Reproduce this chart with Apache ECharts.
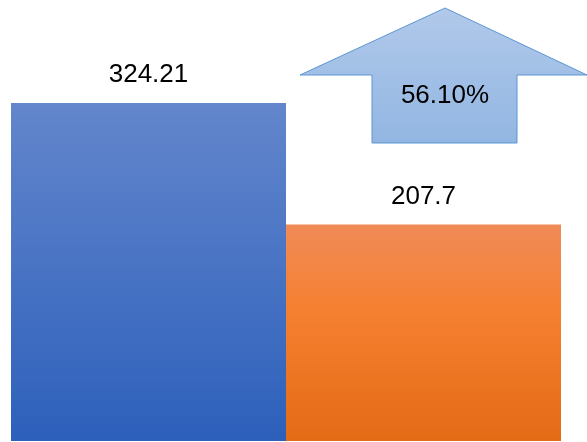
<!DOCTYPE html>
<html>
<head>
<meta charset="utf-8">
<script src="https://cdn.jsdelivr.net/npm/echarts@6/dist/echarts.min.js"></script>
<style>
  html, body { margin: 0; padding: 0; background: #fff; }
  #main { width: 587px; height: 442px; }
</style>
</head>
<body>
<div id="main"></div>
<script>
var categories = ['当前', '对比'];
var values = [324.21, 207.7];
var growth = (values[0] / values[1] - 1) * 100;

var myChart = echarts.init(document.getElementById('main'));

var blueFill = new echarts.graphic.LinearGradient(0, 0, 0, 1, [
    { offset: 0, color: '#6386cc' },
    { offset: 1, color: '#2d60bb' }
]);
var orangeFill = new echarts.graphic.LinearGradient(0, 0, 0, 1, [
    { offset: 0, color: '#f08b57' },
    { offset: 0.4, color: '#f58030' },
    { offset: 1, color: '#e46b16' }
]);

var option = {
    animation: false,
    grid: {
        left: 11,
        right: 26,
        top: 24,
        bottom: 1
    },
    xAxis: {
        type: 'category',
        data: categories,
        show: false
    },
    yAxis: {
        type: 'value',
        min: 0,
        max: 400,
        show: false
    },
    series: [
        {
            type: 'bar',
            barCategoryGap: '0%',
            data: [
                { value: values[0], itemStyle: { color: blueFill } },
                { value: values[1], itemStyle: { color: orangeFill } }
            ],
            label: {
                show: true,
                position: 'top',
                distance: 15,
                color: '#000',
                fontSize: 26,
                fontFamily: 'Liberation Sans, Arial, sans-serif'
            }
        }
    ],
    graphic: [
        {
            type: 'polygon',
            shape: {
                points: [[445, 8], [587, 75], [517, 75], [517, 143], [372, 143], [372, 75], [300, 75]]
            },
            style: {
                fill: new echarts.graphic.LinearGradient(0, 0, 0, 1, [
                    { offset: 0, color: '#b1c9ea' },
                    { offset: 1, color: '#92b6e2' }
                ]),
                stroke: '#5b95d3',
                lineWidth: 1
            }
        },
        {
            type: 'text',
            x: 445,
            y: 96,
            style: {
                text: growth.toFixed(2) + '%',
                fill: '#000',
                font: '26px "Liberation Sans", Arial, sans-serif',
                align: 'center',
                verticalAlign: 'middle'
            }
        }
    ]
};

myChart.setOption(option);
</script>
</body>
</html>
